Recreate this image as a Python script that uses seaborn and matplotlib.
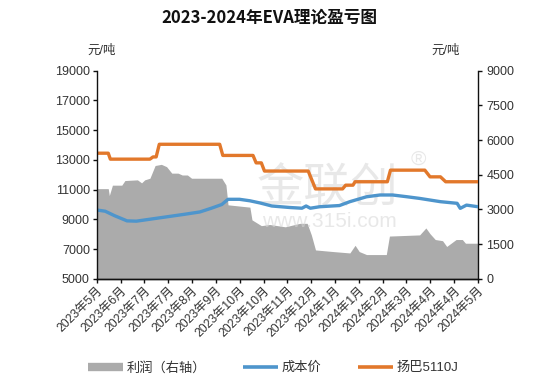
import matplotlib
matplotlib.use("Agg")
import matplotlib.pyplot as plt
from matplotlib.lines import Line2D
import seaborn as sns
import pandas as pd
import numpy as np

# ---- data (days since 2023-05-08) ----
price_days = [0, 11, 13, 51, 54, 57, 60, 118, 121, 150, 153, 158, 161, 203, 210, 236,
              239, 246, 248, 279, 282, 315, 320, 330, 335, 366]
price_vals = [13450, 13450, 13050, 13050, 13200, 13200, 14050, 14050, 13300, 13300,
              12800, 12800, 12250, 12250, 11050, 11050, 11300, 11300, 11530, 11530,
              12310, 12310, 11860, 11860, 11530, 11530]

cost_days = [0, 8, 17, 29, 38, 48, 65, 85, 99, 110, 120, 126, 137, 147, 157, 168, 185,
             197, 201, 205, 214, 233, 243, 259, 272, 284, 298, 310, 330, 346, 349, 355, 366]
cost_vals = [9630, 9550, 9250, 8900, 8880, 8980, 9150, 9350, 9500, 9750, 10000, 10350,
             10350, 10250, 10100, 9900, 9800, 9750, 9900, 9750, 9850, 9930, 10190, 10520,
             10640, 10640, 10520, 10410, 10190, 10080, 9740, 9960, 9850]

profit_days = [0, 11, 12, 15, 24, 27, 39, 43, 46, 51, 56, 62, 67, 72, 78, 82, 87, 91, 120,
               124, 126, 147, 149, 158, 166, 181, 195, 202, 206, 210, 227, 243, 248, 252,
               259, 278, 281, 310, 316, 320, 325, 332, 336, 345, 351, 354, 366]
profit_vals = [3900, 3900, 3600, 4050, 4050, 4250, 4280, 4150, 4280, 4350, 4900, 4950,
               4850, 4570, 4570, 4490, 4490, 4350, 4350, 4060, 3200, 3100, 2550, 2300,
               2350, 2250, 2400, 2400, 1900, 1250, 1180, 1120, 1450, 1180, 1050, 1050,
               1850, 1900, 2200, 1950, 1700, 1650, 1400, 1700, 1700, 1540, 1540]

tick_labels = ["2023年5月", "2023年6月", "2023年7月", "2023年7月", "2023年8月", "2023年9月",
               "2023年10月", "2023年10月", "2023年11月", "2023年12月", "2024年1月",
               "2024年1月", "2024年2月", "2024年3月", "2024年4月", "2024年4月", "2024年5月"]

left_ticks = [5000, 7000, 9000, 11000, 13000, 15000, 17000, 19000]
right_ticks = [0, 1500, 3000, 4500, 6000, 7500, 9000]

ORANGE = "#E2782B"
BLUE = "#4E95CC"
GRAY = "#ABABAB"
TXT = "#333333"

sns.set_theme(style="white")
plt.rcParams["font.family"] = ["Liberation Sans", "Noto Sans CJK SC", "DejaVu Sans"]

fig = plt.figure(figsize=(5.5, 3.82), dpi=100)
ax = fig.add_axes([0.176, 0.27, 0.693, 0.545])
ax2 = ax.twinx()

# profit area (right axis)
ax2.fill_between(profit_days, profit_vals, 0, color=GRAY, linewidth=0, zorder=1)
ax2.set_ylim(0, 9000)
ax2.set_yticks(right_ticks)

# watermark
wm = dict(color="#d6d6d6", alpha=0.55, zorder=2, ha="center", va="center")
ax2.text(0.606, 0.43, "金联创", transform=ax.transAxes, fontsize=34,
         family=["Noto Sans CJK SC"], **wm)
ax2.text(0.61, 0.274, "www.315i.com", transform=ax.transAxes, fontsize=15, **wm)
ax2.text(0.845, 0.575, "®", transform=ax.transAxes, fontsize=15, **wm)

# lines (left axis)
df_cost = pd.DataFrame({"day": cost_days, "val": cost_vals})
df_price = pd.DataFrame({"day": price_days, "val": price_vals})
sns.lineplot(data=df_cost, x="day", y="val", ax=ax, color=BLUE, linewidth=2.4,
             estimator=None, sort=False)
sns.lineplot(data=df_price, x="day", y="val", ax=ax, color=ORANGE, linewidth=2.4,
             estimator=None, sort=False)
ax.set_zorder(ax2.get_zorder() + 1)
ax.patch.set_visible(False)

ax.set_ylim(5000, 19000)
ax.set_yticks(left_ticks)
ax.set_xlim(0, 366)
ax.set_xticks(np.linspace(0, 366, len(tick_labels)))
ax.set_xticklabels(tick_labels, rotation=45, ha="right", rotation_mode="anchor")
ax.set_xlabel("")
ax.set_ylabel("")

for a in (ax, ax2):
    for side in ("left", "right", "bottom"):
        a.spines[side].set_color("#111111")
        a.spines[side].set_linewidth(1.0)
    a.spines["top"].set_visible(False)
    a.tick_params(axis="both", direction="out", length=3, width=1, color="#111111",
                  labelsize=9, labelcolor=TXT, pad=2)
ax.spines["right"].set_visible(False)
ax2.spines["left"].set_visible(False)
ax.tick_params(axis="y", left=True, right=False)
ax.tick_params(axis="x", bottom=True, labelsize=8.8, pad=1)
ax2.tick_params(axis="y", right=True, left=False, pad=3)

fig.text(0.49, 0.953, "2023-2024年EVA理论盈亏图", ha="center", va="center",
         fontsize=12, fontweight="bold", color="#111111",
         family=["Noto Sans CJK SC"])
fig.text(0.184, 0.868, "元/吨", ha="center", va="center", fontsize=9, color=TXT)
fig.text(0.811, 0.868, "元/吨", ha="center", va="center", fontsize=9, color=TXT)

handles = [Line2D([], [], color=GRAY, linewidth=6, solid_capstyle="butt"),
           Line2D([], [], color=BLUE, linewidth=2.6, solid_capstyle="butt"),
           Line2D([], [], color=ORANGE, linewidth=2.6, solid_capstyle="butt")]
fig.legend(handles, ["利润（右轴）", "成本价", "扬巴5110J"], loc="center",
           bbox_to_anchor=(0.497, 0.037), ncol=3, frameon=False, fontsize=9.5,
           handlelength=2.65, handletextpad=0.25, columnspacing=2.8,
           labelcolor=TXT)

fig.savefig("out.png", dpi=100)
